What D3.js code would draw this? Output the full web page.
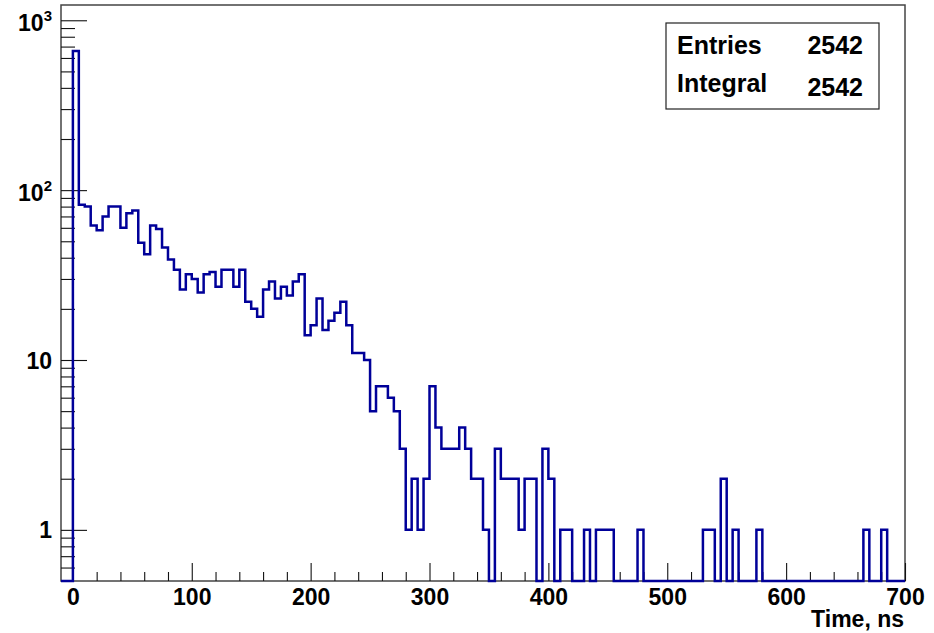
<!DOCTYPE html>
<html>
<head>
<meta charset="utf-8">
<script src="https://cdn.jsdelivr.net/npm/d3@7"></script>
<style>
body { margin: 0; background: #fff; }
text { font-family: "Liberation Sans", Arial, Helvetica, sans-serif; font-weight: bold; fill: #000; }
</style>
</head>
<body>
<div id="container"></div>
<script>
// histogram: 5 ns bins starting at -10 ns
const binStart = -10
const binWidth = 5
const counts = [
    0, 0,
    660, 82, 80, 62, 58, 70, 80, 80, 60, 73,
    76, 49, 42, 62, 59, 46, 39, 34, 26, 32,
    30, 25, 32, 33, 27, 34, 34, 27, 34, 22,
    20, 18, 26, 29, 23, 27, 24, 29, 32, 14,
    16, 23, 15, 17, 19, 22, 16, 11, 11, 10,
    5, 7, 7, 6, 5, 3, 1, 2, 1, 2,
    7, 4, 3, 3, 3, 4, 3, 2, 2, 1,
    0, 3, 2, 2, 2, 1, 2, 2, 0, 3,
    2, 0, 1, 1, 0, 0, 1, 0, 1, 1,
    1, 0, 0, 0, 0, 1, 0, 0, 0, 0,
    0, 0, 0, 0, 0, 0, 1, 1, 0, 2,
    0, 1, 0, 0, 0, 1, 0, 0, 0, 0,
    0, 0, 0, 0, 0, 0, 0, 0, 0, 0,
    0, 0, 0, 1, 0, 0, 1, 0, 0, 0
]

const xDomain = [-10, 700]
const yDomain = [0.5, 1230]
const xMajor = [0, 100, 200, 300, 400, 500, 600, 700]
const xLabels = ["0", "100", "200", "300", "400", "500", "600", "700"]
const xMinor = [20, 40, 60, 80, 120, 140, 160, 180, 220, 240, 260, 280, 320, 340, 360, 380,
    420, 440, 460, 480, 520, 540, 560, 580, 620, 640, 660, 680]
const yMajor = [1, 10, 100, 1000]
const yLabels = [["1", ""], ["10", ""], ["10", "2"], ["10", "3"]]
const yMinor = [0.6, 0.7, 0.8, 0.9, 2, 3, 4, 5, 6, 7, 8, 9, 20, 30, 40, 50, 60, 70, 80, 90,
    200, 300, 400, 500, 600, 700, 800, 900]
const xTitle = "Time, ns"
const statNames = ["Entries", "Integral"]
const statValues = ["2542", "2542"]

var margin = { top: 5, right: 29, bottom: 52, left: 61 }
    , width = 844
    , height = 576

const svg = d3.select("div#container").append("svg")
    .attr("width", 934)
    .attr("height", 633)
    .append("g")
    .attr("transform", "translate(" + margin.left + "," + margin.top + ")");

const xScale = d3.scaleLinear().domain(xDomain).range([0, width]);
const yScale = d3.scaleLog().domain(yDomain).range([height, 0]);

// frame
svg.append("rect")
    .attr("width", width)
    .attr("height", height)
    .attr("fill", "none")
    .attr("stroke", "#444")
    .attr("stroke-width", 1.5)

// x ticks (pointing inward)
svg.append("g")
    .attr("transform", "translate(0," + height + ")")
    .call(d3.axisBottom(xScale).tickValues(xMinor).tickSize(-9).tickSizeOuter(0).tickFormat(""))
    .call(g => g.select(".domain").remove())

svg.append("g")
    .attr("transform", "translate(0," + height + ")")
    .call(d3.axisBottom(xScale).tickValues(xMajor).tickSize(-18).tickSizeOuter(0).tickPadding(8)
        .tickFormat((d, i) => xLabels[i]))
    .call(g => g.select(".domain").remove())
    .call(g => g.selectAll("text").style("font-size", "23px").attr("fill", "#000"))

// y ticks
svg.append("g")
    .call(d3.axisLeft(yScale).tickValues(yMinor).tickSize(-14).tickSizeOuter(0).tickFormat(""))
    .call(g => g.select(".domain").remove())

svg.append("g")
    .call(d3.axisLeft(yScale).tickValues(yMajor).tickSize(-26).tickSizeOuter(0).tickFormat(""))
    .call(g => g.select(".domain").remove())

svg.selectAll(".tick line").attr("stroke", "#111").attr("stroke-width", 1.1)

// y labels, 10^n with superscripts
const ylab = svg.append("g").selectAll("text")
    .data(yMajor)
    .enter()
    .append("text")
    .attr("text-anchor", "end")
    .attr("x", -9)
    .attr("y", (d, i) => yScale(d) + (yLabels[i][1] ? 11 : 8.5))
    .style("font-size", "23px")

ylab.append("tspan").text((d, i) => yLabels[i][0])
ylab.append("tspan")
    .attr("dy", -10)
    .style("font-size", "15px")
    .text((d, i) => yLabels[i][1])

// histogram outline
const pts = []
counts.forEach((c, i) => {
    const x0 = binStart + i * binWidth
    pts.push([x0, c], [x0 + binWidth, c])
})

svg.append("path")
    .datum(pts)
    .attr("fill", "none")
    .attr("stroke", "#000099")
    .attr("stroke-width", 2.5)
    .attr("stroke-linejoin", "miter")
    .attr("d", d3.line()
        .x(d => xScale(d[0]))
        .y(d => yScale(Math.max(d[1], yDomain[0])))
    )

// axis title
svg.append("text")
    .attr("text-anchor", "end")
    .attr("x", width - 1)
    .attr("y", height + 46)
    .style("font-size", "23px")
    .text(xTitle)

// stats box
const stats = d3.select("svg").append("g")
stats.append("rect")
    .attr("x", 666)
    .attr("y", 23)
    .attr("width", 213)
    .attr("height", 86)
    .attr("fill", "#fff")
    .attr("stroke", "#222")
    .attr("stroke-width", 1.2)

stats.selectAll("text.name")
    .data(statNames)
    .enter()
    .append("text")
    .attr("class", "name")
    .attr("x", 677)
    .attr("y", (d, i) => i === 0 ? 54 : 92)
    .style("font-size", "25px")
    .text(d => d)

stats.selectAll("text.val")
    .data(statValues)
    .enter()
    .append("text")
    .attr("class", "val")
    .attr("text-anchor", "end")
    .attr("x", 863)
    .attr("y", (d, i) => i === 0 ? 54 : 96)
    .style("font-size", "25px")
    .text(d => d)
</script>
</body>
</html>
